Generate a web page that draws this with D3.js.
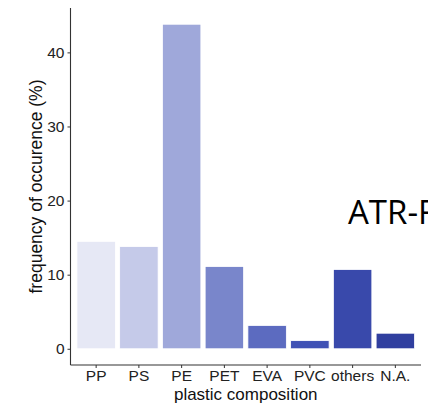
<!DOCTYPE html>
<html>
<head>
<meta charset="utf-8">
<script src="https://cdn.jsdelivr.net/npm/d3@7"></script>
<style>
  body { margin: 0; background: #fff; }
  svg { display: block; }
  text { font-family: "Liberation Sans", Arial, sans-serif; }
</style>
</head>
<body>
<div id="chart"></div>
<script>
const CATEGORIES = ['PP', 'PS', 'PE', 'PET', 'EVA', 'PVC', 'others', 'N.A.']
const FREQUENCY = [14.5, 13.8, 43.8, 11.1, 3.15, 1.1, 10.7, 2.1]
const COLORS = ['#e6e8f5', '#c5cae9', '#9fa8da', '#7986cb', '#5c6bc0', '#3f51b5', '#3949ab', '#303f9f']
const Y_TICKS = [0, 10, 20, 30, 40]

const WIDTH = 428
const HEIGHT = 406
const MARGIN = { top: 8, right: 7, bottom: 41, left: 70.5 }

let svg = d3.select('#chart')
  .append('svg')
    .attr('width', WIDTH)
    .attr('height', HEIGHT)

let x = d3.scaleBand()
  .domain(CATEGORIES)
  .range([MARGIN.left, WIDTH - MARGIN.right])
  .paddingInner(0.1)
  .paddingOuter(0.15)

// ggplot style 5% expansion
let ymax = d3.max(FREQUENCY)
let y = d3.scaleLinear()
  .domain([-ymax * 0.05, ymax * 1.05])
  .range([HEIGHT - MARGIN.bottom, MARGIN.top])

// bars
svg.append('g')
  .selectAll('rect')
  .data(CATEGORIES)
  .enter().append('rect')
    .attr('x', (d) => x(d))
    .attr('width', x.bandwidth())
    .attr('y', (d, i) => y(FREQUENCY[i]))
    .attr('height', (d, i) => y(0) - y(FREQUENCY[i]))
    .attr('fill', (d, i) => COLORS[i])
    .attr('stroke', '#fff')
    .attr('stroke-width', 0.8)

// axes
let yAxis = svg.append('g')
  .attr('transform', 'translate(' + MARGIN.left + ',0)')
  .call(d3.axisLeft(y).tickValues(Y_TICKS).tickSize(3).tickPadding(3))

let xAxis = svg.append('g')
  .attr('transform', 'translate(0,' + (HEIGHT - MARGIN.bottom) + ')')
  .call(d3.axisBottom(x).tickSize(3).tickPadding(2))

for (let ax of [xAxis, yAxis]) {
  ax.select('.domain').attr('stroke', '#333').attr('stroke-width', 1.1)
  ax.selectAll('.tick line').attr('stroke', '#333')
  ax.selectAll('.tick text').attr('fill', '#222').style('font-size', '15.5px')
}
xAxis.select('.domain').attr('d', 'M' + MARGIN.left + ',0H' + (WIDTH - MARGIN.right))
yAxis.select('.domain').attr('d', 'M0,' + (HEIGHT - MARGIN.bottom) + 'V' + MARGIN.top)

// titles
svg.append('text')
  .attr('x', (MARGIN.left + WIDTH - MARGIN.right) / 2)
  .attr('y', 400)
  .attr('text-anchor', 'middle')
  .style('font-size', '17px')
  .attr('fill', '#111')
  .text('plastic composition')

svg.append('text')
  .attr('transform', 'translate(42,' + (MARGIN.top + HEIGHT - MARGIN.bottom) / 2 + ') rotate(-90)')
  .attr('text-anchor', 'middle')
  .style('font-size', '17.5px')
  .attr('fill', '#111')
  .text('frequency of occurence (%)')

// overlaid slide text, cut at the right edge as in the original
svg.append('text')
  .attr('x', 348)
  .attr('y', 224)
  .style('font-family', '"Open Sans", "Noto Sans", sans-serif')
  .style('font-size', '33px')
  .attr('fill', '#000')
  .text('ATR-FTIR')
</script>
</body>
</html>
